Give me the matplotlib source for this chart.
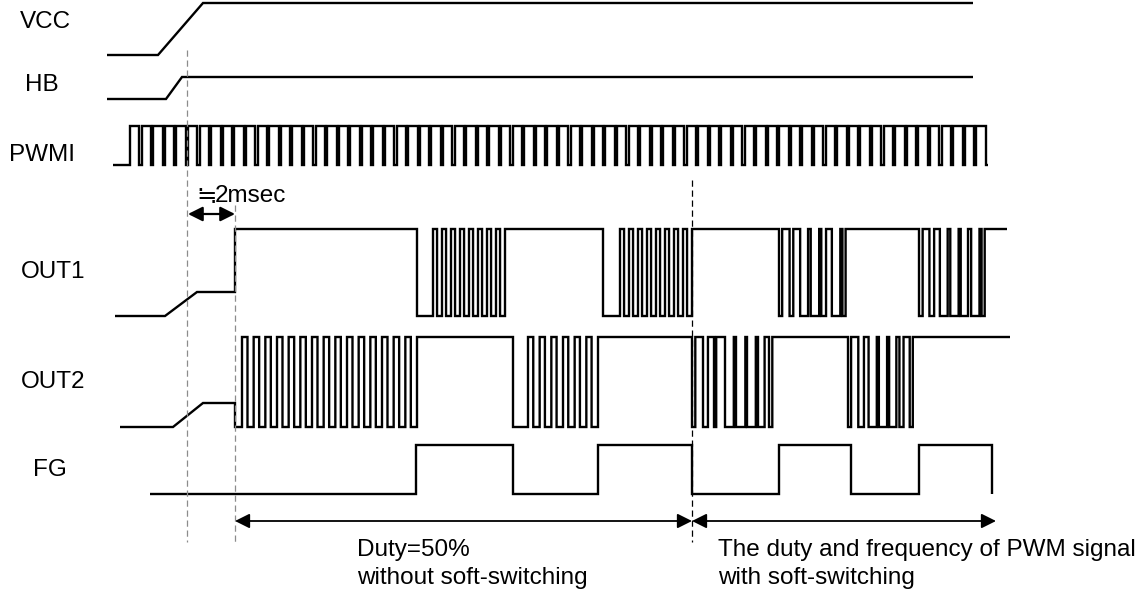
import matplotlib
matplotlib.use("Agg")
import matplotlib.pyplot as plt

# ---------------- data (pixel-time units) ----------------
signal_names = ["VCC", "HB", "PWMI", "OUT1", "OUT2", "FG"]

# VCC / HB: (x, y) corner points of the ramps
vcc_x = [107, 158, 203, 973]
vcc_y = [55, 55, 3, 3]
hb_x = [107, 166, 182, 973]
hb_y = [99, 99, 77, 77]

# PWMI: idle, then regular pulses
pwmi_idle = [113, 130]
pwmi_levels = (165, 126)          # low, high
pwmi_count = 74
pwmi_end = 988
pwmi_low_width = 2.2

# OUT1 levels and segments
out1_levels = (316, 229)
out1_start = [(115, 316), (165, 316), (197, 292), (235, 292)]
# plain bursts: (fall, burst_start, burst_end, n_pulses)
out1_bursts = [(417, 433, 505, 8), (603, 620, 692, 8)]
# soft-switching bursts: (start, end, low fraction per period)
out1_soft = [(779, 853, [0.3, 0.35, 0.75, 0.8, 0.45, 0.8, 0.3]),
             (919, 992, [0.35, 0.45, 0.75, 0.8, 0.7, 0.8, 0.3])]
out1_end = 1007

# OUT2
out2_levels = (427, 337)
out2_start = [(120, 427), (173, 427), (203, 403), (235, 403)]
out2_bursts = [(235, 242, 417, 15), (513, 528, 598, 6)]
out2_soft = [(692, 780, [0.3, 0.45, 0.2, 0.8, 0.85, 0.8, 0.6, 0.3]),
             (848, 920, [0.3, 0.55, 0.8, 0.8, 0.7, 0.4, 0.3])]
out2_end = 1010

# FG
fg_levels = (494, 445)
fg_start = 150
fg_edges = [416, 513, 598, 692, 779, 851, 919, 992]

# markers / annotations
dash_gray_x = [187, 235]
dash_gray_top = [50, 205]
dash_black_x = 692
dash_black_top = 180
dash_bottom = 542
span_arrows = [(235, 692), (692, 996)]
small_arrow = (188, 235)

text_left = ["Duty=50%", "without soft-switching"]
text_right = ["The duty and frequency of PWM signal", "with soft-switching"]

# ---------------- drawing ----------------
plt.rcParams['font.family'] = ['Liberation Sans', 'DejaVu Sans']
FS = 17.5
LW = 1.7

fig = plt.figure(figsize=(11.45, 5.91), dpi=100)
ax = fig.add_axes([0, 0, 1, 1])
ax.set_xlim(0, 1145)
ax.set_ylim(591, 0)
ax.axis('off')


def draw(xs, ys):
    ax.plot(xs, ys, color='black', lw=LW, solid_joinstyle='miter', solid_capstyle='butt')


# VCC, HB
draw(vcc_x, vcc_y)
draw(hb_x, hb_y)

# PWMI
lo, hi = pwmi_levels
xs = [pwmi_idle[0], pwmi_idle[1]]
ys = [lo, lo]
period = (pwmi_end - pwmi_idle[1]) / pwmi_count
for i in range(pwmi_count):
    t0 = pwmi_idle[1] + i * period
    t1 = t0 + period - pwmi_low_width
    xs += [t0, t0, t1, t1]
    ys += [lo, hi, hi, lo]
xs.append(pwmi_end)
ys.append(lo)
draw(xs, ys)


def plain_burst(xs, ys, lo, hi, fall, b0, b1, n):
    xs += [fall, fall, b0]
    ys += [hi, lo, lo]
    p = (b1 - b0) / n
    for i in range(n):
        t0 = b0 + i * p
        th = t0 + p * 0.45
        xs += [t0, t0, th, th]
        ys += [lo, hi, hi, lo]
    xs += [b1, b1]
    ys += [lo, hi]


def soft_burst(xs, ys, lo, hi, b0, b1, fracs):
    p = (b1 - b0) / len(fracs)
    for i, f in enumerate(fracs):
        t0 = b0 + i * p
        tl = t0 + p * f
        xs += [t0, t0, tl, tl]
        ys += [hi, lo, lo, hi]
    xs.append(b1)
    ys.append(hi)


def out_signal(levels, start, bursts, soft, end):
    lo, hi = levels
    xs = [p[0] for p in start]
    ys = [p[1] for p in start]
    for (fall, b0, b1, n) in bursts:
        if fall == start[-1][0]:
            xs.append(fall)
            ys.append(lo)
            xs.append(b0)
            ys.append(lo)
            p = (b1 - b0) / n
            for i in range(n):
                t0 = b0 + i * p
                th = t0 + p * 0.47
                xs += [t0, t0, th, th]
                ys += [lo, hi, hi, lo]
            xs += [b1, b1]
            ys += [lo, hi]
        else:
            if ys[-1] != hi:
                xs.append(xs[-1])
                ys.append(hi)
            plain_burst(xs, ys, lo, hi, fall, b0, b1, n)
    for (b0, b1, fr) in soft:
        soft_burst(xs, ys, lo, hi, b0, b1, fr)
    xs.append(end)
    ys.append(hi)
    draw(xs, ys)


out_signal(out1_levels, out1_start, out1_bursts, out1_soft, out1_end)
out_signal(out2_levels, out2_start, out2_bursts, out2_soft, out2_end)

# FG
lo, hi = fg_levels
xs = [fg_start]
ys = [lo]
state = lo
for e in fg_edges:
    xs += [e, e]
    ys += [state, hi if state == lo else lo]
    state = hi if state == lo else lo
draw(xs, ys)

# dashed markers
for x, top in zip(dash_gray_x, dash_gray_top):
    ax.plot([x, x], [top, dash_bottom], color='#8c8c8c', lw=0.9, dashes=(5, 3))
ax.plot([dash_black_x, dash_black_x], [dash_black_top, dash_bottom], color='black', lw=0.9, dashes=(5, 3))

# arrows
for a, b in span_arrows:
    ax.annotate('', xy=(b, 521), xytext=(a, 521),
                arrowprops=dict(arrowstyle='<|-|>', color='black', lw=1.3,
                                mutation_scale=22, shrinkA=0, shrinkB=0))
ax.annotate('', xy=(small_arrow[1], 214), xytext=(small_arrow[0], 214),
            arrowprops=dict(arrowstyle='<|-|>', color='black', lw=1.6,
                            mutation_scale=22, shrinkA=0, shrinkB=0))

# labels
label_pos = [(45, 22), (42, 85), (42, 155), (53, 272), (53, 382), (50, 470)]
for name, (x, y) in zip(signal_names, label_pos):
    ax.text(x, y, name, ha='center', va='center', fontsize=FS)

ax.text(196, 196, "\u2252", ha='left', va='center', fontsize=FS, family=['DejaVu Sans'])
ax.text(215, 196, "2msec", ha='left', va='center', fontsize=FS)
ax.text(357, 550, text_left[0], ha='left', va='center', fontsize=FS)
ax.text(357, 578, text_left[1], ha='left', va='center', fontsize=FS)
ax.text(718, 550, text_right[0], ha='left', va='center', fontsize=FS)
ax.text(718, 578, text_right[1], ha='left', va='center', fontsize=FS)

fig.savefig("out.png", dpi=100)
